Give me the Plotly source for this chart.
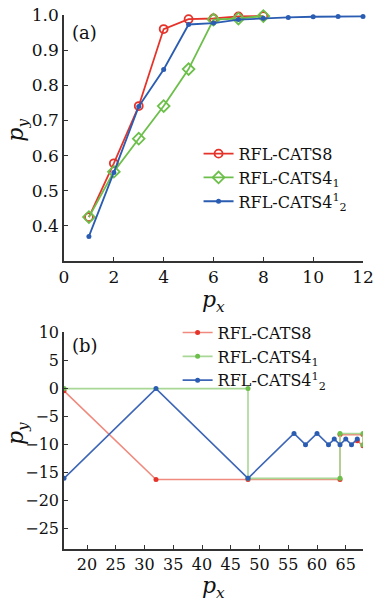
import plotly.graph_objects as go

# ---------- data: panel (a) ----------
a_x_red = [1, 2, 3, 4, 5, 6, 7, 8]
a_y_red = [0.425, 0.578, 0.741, 0.960, 0.988, 0.990, 0.996, 0.997]
a_x_green = [1, 2, 3, 4, 5, 6, 7, 8]
a_y_green = [0.425, 0.554, 0.648, 0.741, 0.846, 0.987, 0.990, 0.997]
a_x_blue = [1, 2, 3, 4, 5, 6, 7, 8, 9, 10, 11, 12]
a_y_blue = [0.370, 0.552, 0.740, 0.845, 0.973, 0.977, 0.987, 0.991, 0.993, 0.995, 0.996, 0.996]

# ---------- data: panel (b) ----------
b_x_red = [16, 32, 48, 64, 64, 68, 68, 67]
b_y_red = [-0.4, -16.2, -16.2, -16.2, -8.2, -8.2, -10.2, -9.3]
b_x_green = [16, 48, 48, 64, 64, 68, 68]
b_y_green = [0, 0, -16, -16, -8, -8, -10]
b_x_blue = [16, 32, 48, 56, 58, 60, 62, 63, 64, 65, 66, 67]
b_y_blue = [-16, 0, -16, -8, -10, -8, -10, -9, -10, -9, -10, -9]

names = ["RFL-CATS8", "RFL-CATS4<sub>1</sub>", "RFL-CATS4<sup>1</sup><sub>2</sub>"]
a_xticks = [0, 2, 4, 6, 8, 10, 12]
a_yticks = [0.4, 0.5, 0.6, 0.7, 0.8, 0.9, 1.0]
b_xticks = [20, 25, 30, 35, 40, 45, 50, 55, 60, 65]
b_yticks = [-25, -20, -15, -10, -5, 0, 5, 10]

RED, GREEN, BLUE = "#e5332a", "#6cbf4a", "#2a5cb2"
RED_L, GREEN_L, BLUE_L = "#f08a7e", "#a9d896", "#3d66b6"
FONT = "DejaVu Serif"
INK = "#111111"

fig = go.Figure()
fig.add_trace(go.Scatter(x=a_x_red, y=a_y_red, name=names[0], mode="lines+markers",
                         line=dict(color=RED, width=1.8),
                         marker=dict(symbol="circle-open", size=8, color=RED, line=dict(width=1.8)),
                         xaxis="x", yaxis="y", legend="legend", cliponaxis=False))
fig.add_trace(go.Scatter(x=a_x_green, y=a_y_green, name=names[1], mode="lines+markers",
                         line=dict(color=GREEN, width=1.8),
                         marker=dict(symbol="diamond-open", size=9, color=GREEN, line=dict(width=1.8)),
                         xaxis="x", yaxis="y", legend="legend", cliponaxis=False))
fig.add_trace(go.Scatter(x=a_x_blue, y=a_y_blue, name=names[2], mode="lines+markers",
                         line=dict(color=BLUE, width=1.8),
                         marker=dict(symbol="circle", size=5, color=BLUE),
                         xaxis="x", yaxis="y", legend="legend", cliponaxis=False))

fig.add_trace(go.Scatter(x=b_x_red, y=b_y_red, name=names[0], mode="lines+markers",
                         line=dict(color=RED_L, width=1.6),
                         marker=dict(symbol="circle", size=5, color=RED),
                         xaxis="x2", yaxis="y2", legend="legend2"))
fig.add_trace(go.Scatter(x=b_x_green, y=b_y_green, name=names[1], mode="lines+markers",
                         line=dict(color=GREEN_L, width=1.6),
                         marker=dict(symbol="circle", size=5, color=GREEN),
                         xaxis="x2", yaxis="y2", legend="legend2"))
fig.add_trace(go.Scatter(x=b_x_blue, y=b_y_blue, name=names[2], mode="lines+markers",
                         line=dict(color=BLUE_L, width=1.6),
                         marker=dict(symbol="circle", size=5, color=BLUE),
                         xaxis="x2", yaxis="y2", legend="legend2"))


def ax(**kw):
    d = dict(showline=True, linecolor="#333333", linewidth=1.5, ticks="inside",
             ticklen=4, tickwidth=1.2, tickcolor="#333333", showgrid=False,
             zeroline=False, automargin=False)
    d.update(kw)
    return d


TITLE_FONT = dict(family=FONT, size=22, color=INK)
fig.update_layout(
    width=375, height=603,
    margin=dict(l=64, r=12, t=15, b=54),
    paper_bgcolor="white", plot_bgcolor="white",
    font=dict(family=FONT, color=INK),
    xaxis=ax(domain=[0, 1], range=[0, 12], tickvals=a_xticks, anchor="y",
             tickfont=dict(family=FONT, size=17, color=INK)),
    yaxis=ax(domain=[0.5393, 1], range=[0.3, 1.0], tickvals=a_yticks, tickformat=".1f",
             anchor="x", tickfont=dict(family=FONT, size=17, color=INK)),
    xaxis2=ax(domain=[0, 1], range=[16, 68], tickvals=b_xticks, anchor="y2",
              tickfont=dict(family=FONT, size=16, color=INK)),
    yaxis2=ax(domain=[0, 0.4064], range=[-28.6, 10.1], tickvals=b_yticks, anchor="x2",
              tickfont=dict(family=FONT, size=16, color=INK)),
    legend=dict(x=0.45, y=0.772, xanchor="left", yanchor="top", bgcolor="rgba(0,0,0,0)",
                font=dict(family=FONT, size=16, color=INK), tracegroupgap=0,
                itemwidth=30, borderwidth=0),
    legend2=dict(x=0.38, y=0.437, xanchor="left", yanchor="top", bgcolor="rgba(0,0,0,0)",
                 font=dict(family=FONT, size=16, color=INK), tracegroupgap=0,
                 itemwidth=30, borderwidth=0),
    annotations=[
        dict(text="(a)", xref="x domain", yref="y domain", x=0.02, y=0.98, xanchor="left",
             yanchor="top", showarrow=False, font=dict(family=FONT, size=18, color=INK)),
        dict(text="(b)", xref="x2 domain", yref="y2 domain", x=0.02, y=0.995, xanchor="left",
             yanchor="top", showarrow=False, font=dict(family=FONT, size=18, color=INK)),
        # axis titles
        dict(text="<i>p</i><sub><i>x</i></sub>", xref="x domain", yref="paper",
             x=0.5, y=(549 - 301) / 534, xanchor="center", yanchor="middle",
             showarrow=False, font=TITLE_FONT),
        dict(text="<i>p</i><sub><i>y</i></sub>", xref="paper", yref="y domain",
             x=-46 / 299, y=0.53, xanchor="center", yanchor="middle", textangle=-90,
             showarrow=False, font=TITLE_FONT),
        dict(text="<i>p</i><sub><i>x</i></sub>", xref="x2 domain", yref="paper",
             x=0.5, y=-(587 - 549) / 534, xanchor="center", yanchor="middle",
             showarrow=False, font=TITLE_FONT),
        dict(text="<i>p</i><sub><i>y</i></sub>", xref="paper", yref="y2 domain",
             x=-46 / 299, y=0.53, xanchor="center", yanchor="middle", textangle=-90,
             showarrow=False, font=TITLE_FONT),
    ],
)

fig.write_html("out.html", config={"displayModeBar": False},
               post_script="document.body.style.margin='0';")
